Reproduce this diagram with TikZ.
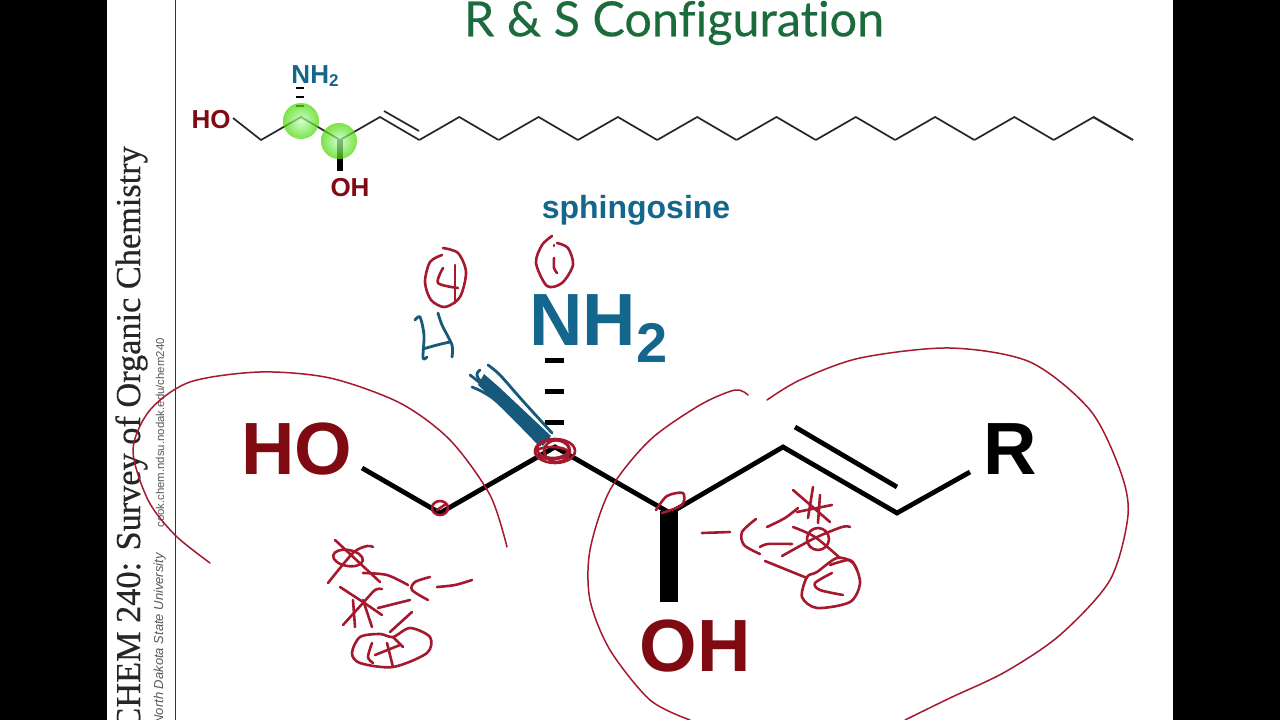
\documentclass[tikz,border=0pt]{standalone}
\usepackage{fontspec}
\setmainfont{Liberation Sans}
\newfontfamily\titlefont[Ligatures=NoCommon,FakeBold=0.3]{Lato}
\newfontfamily\sidefont[FakeStretch=0.98,FakeBold=0.4]{Liberation Serif}
\usetikzlibrary{calc,arrows.meta}
\definecolor{inkred}{HTML}{A5192F}
\definecolor{oxred}{HTML}{7F0A12}
\definecolor{aminoblue}{HTML}{15668C}
\definecolor{inkblue}{HTML}{17597A}
\definecolor{titlegreen}{HTML}{1B6B3C}
\tikzset{
	ink/.style={draw=inkred, line width=2.6pt, line cap=round, line join=round},
	thinink/.style={draw=inkred, line width=1.5pt, line cap=round},
	blueink/.style={draw=inkblue, line width=2.8pt, line cap=round, line join=round},
	bond/.style={draw=black, line width=4.8pt, line join=miter},
	smallbond/.style={draw=black!85, line width=1.7pt},
	biglabel/.style={font=\fontsize{74}{74}\selectfont\bfseries, inner sep=0pt},
	smalllabel/.style={font=\fontsize{26}{26}\selectfont\bfseries, inner sep=0pt},
	center ball/.style={circle, minimum size=36pt, inner sep=0pt, inner color=green!25!white, outer color=green!55!lime!85!black, opacity=0.72}
}
\begin{document}
\begin{tikzpicture}[x=1pt,y=-1pt]
		\useasboundingbox (0,0) rectangle (1280,720);
		\clip (0,0) rectangle (1280,720);
		%Page and black side bars
		\fill [white] (0,0) rectangle (1280,720);
		\fill [black] (0,0) rectangle (107,720);
		\fill [black] (1173,0) rectangle (1280,720);
		\draw [black!80, line width=1pt] (175.5,0) -- (175.5,720);
		%Side text
		\node (course) [anchor=base east, rotate=90, inner sep=0pt, text=black!85, font=\sidefont\fontsize{35}{36}\selectfont] at (140,146) {CHEM 240: Survey of Organic Chemistry};
		\node (website) [anchor=base east, rotate=90, inner sep=0pt, text=black!65, font=\fontsize{11.4}{14}\selectfont] at (164,338) {cook.chem.ndsu.nodak.edu/chem240};
		\node (school) [anchor=base east, rotate=90, inner sep=0pt, text=black!65, font=\itshape\fontsize{13}{14}\selectfont] at (163,553) {North Dakota State University};
		%Title
		\node (title) [text=titlegreen, inner sep=0pt, font=\titlefont\fontsize{48.5}{48}\selectfont] at (674,23) {R \& S Configuration};
		%Small molecule
		\draw [smallbond] (233,118) -- (261,140) -- (301,117) -- (340,140);
		\foreach \i in {0,...,9}
			\draw [smallbond] ({340+79.3*\i},140) -- ({380+79.3*\i},117) -- ({419.3+79.3*\i},140);
		\draw [smallbond] (1133,140) -- (1093,117);
		\draw [smallbond] (384,111) -- (419,131);
		\draw [line width=6pt] (340,140) -- (340,171);
		\foreach \y in {88,97,106}
			\draw [line width=1.6pt] (296,\y) -- (304,\y);
		\node (ballone) [center ball] at (301,121) {};
		\node (balltwo) [center ball] at (339,141) {};
		\node (smallho) [smalllabel, text=oxred] at (211,120) {HO};
		\node (smalloh) [smalllabel, text=oxred] at (350,188) {OH};
		\node (smallnh) [smalllabel, text=aminoblue] at (315,76) {NH{\fontsize{17}{17}\selectfont\raisebox{-3pt}{2}}};
		\node (name) [text=aminoblue, inner sep=0pt, font=\fontsize{32}{32}\selectfont\bfseries] at (636,210) {sphingosine};
		%Big molecule
		\draw [bond] (362,468) -- (440,513) -- (555,447) -- (670,513) -- (783,447) -- (897,513) -- (970,472);
		\draw [bond] (795,427) -- (897,487);
		\fill [black] (660,511) rectangle (678,602);
		\foreach \y in {358,389,420}
			\fill [black] (545,\y) rectangle (564,{\y+5});
		%Labels
		\node (ho) [biglabel, text=oxred] at (297,449) {HO};
		\node (oh) [biglabel, text=oxred] at (695,646) {OH};
		\node (rgroup) [biglabel, text=black] at (1010,449) {R};
		\node (nh) [biglabel, text=aminoblue, anchor=base west] at (529,345) {NH{\fontsize{56}{56}\selectfont\raisebox{-17pt}{2}}};
		%Big red outlines
		\draw [thinink] plot [smooth] coordinates {(210,563) (175,535) (148,500) (133,450) (150,410) (190,382) (260,372) (330,378) (400,403) (450,440) (490,495) (507,547)};
		\draw [thinink] plot [smooth] coordinates {(748,395) (735,390) (700,405) (650,440) (610,490) (590,550) (590,600) (610,650) (650,700) (690,720)};
		\draw [thinink] plot [smooth] coordinates {(767,400) (800,380) (860,358) (950,348) (1030,362) (1090,410) (1120,470) (1128,515) (1110,580) (1060,635) (1005,672) (950,698) (905,720)};
		%Blue H and wedge
		\draw [blueink] plot [smooth] coordinates {(415,320) (420,317) (424,335) (423,358) (427,357)};
		\draw [blueink] plot [smooth] coordinates {(423,349) (437,345) (450,342)};
		\draw [blueink] plot [smooth] coordinates {(438,313) (442,325) (452,345) (452,357)};
		\fill [inkblue] (478,385) -- (484,374) -- (500,388) -- (551,436) -- (543,446) -- cycle;
		\draw [blueink] plot [smooth] coordinates {(470,375) (490,392) (540,443)};
		\draw [blueink] plot [smooth] coordinates {(480,370) (478,378) (505,405) (545,440)};
		\draw [blueink] plot [smooth] coordinates {(488,365) (500,375) (522,400) (552,433)};
		\draw [blueink] plot [smooth] coordinates {(472,387) (495,400) (540,445)};
		%Ringed numbers
		\draw [ink] plot [smooth] coordinates {(443,248) (458,253) (466,272) (460,297) (445,307) (431,300) (425,282) (430,262) (442,255)};
		\draw [ink] plot [smooth] coordinates {(443,268) (438,283) (458,288)};
		\draw [ink] (455,265) -- (455,303);
		\draw [ink] plot [smooth] coordinates {(552,236) (542,245) (536,263) (547,286) (562,283) (573,265) (568,248) (557,243)};
		\draw [ink] (554,245) -- (554,246);
		\draw [ink] plot [smooth] coordinates {(554,258) (554,268) (557,273)};
		%Red marks on the centres
		\draw [ink] (555,451) ellipse [x radius=20, y radius=12];
		\draw [ink] (553,449) ellipse [x radius=16, y radius=9];
		\draw [ink] (557,451) ellipse [x radius=13, y radius=11];
		\draw [ink] (552,453) ellipse [x radius=17, y radius=6];
		\draw [ink] (440,508) ellipse [x radius=8, y radius=7];
		\draw [ink] (437,510) -- (446,504);
		\draw [ink] plot [smooth] coordinates {(656,510) (667,496) (683,493) (682,505) (662,513)};
		%Left scribble
		\draw [ink] (335,540) -- (380,582);
		\draw [ink] plot [smooth] coordinates {(328,583) (353,553) (367,546) (373,547)};
		\draw [ink, rotate around={-10:(348,558)}] (348,558) ellipse [x radius=15, y radius=8];
		\draw [ink] plot [smooth] coordinates {(363,573) (387,575) (408,585)};
		\draw [ink] plot [smooth] coordinates {(430,577) (415,582) (412,590) (428,600)};
		\draw [ink] plot [smooth] coordinates {(437,587) (455,585) (472,580)};
		\draw [ink] (340,587) -- (363,602) -- (382,615);
		\draw [ink] plot [smooth] coordinates {(343,625) (363,603) (375,590) (382,589)};
		\draw [ink] (363,600) -- (372,627);
		\draw [ink] (353,600) -- (355,627);
		\draw [ink] (378,608) -- (410,600);
		\draw [ink] plot [smooth cycle] coordinates {(393,637) (410,628) (430,637) (427,653) (393,667) (360,663) (352,653) (360,637) (380,634)};
		\draw [ink] (390,632) -- (412,612);
		\draw [ink] plot [smooth] coordinates {(372,643) (368,657) (373,663)};
		\draw [ink] (375,655) -- (400,645);
		\draw [ink] (387,643) -- (393,667);
		\draw [ink] (393,637) -- (403,647);
		%Right scribble
		\draw [ink] (702,533) -- (730,532);
		\draw [ink] plot [smooth] coordinates {(756,519) (742,532) (744,545) (760,554)};
		\draw [ink] plot [smooth] coordinates {(767,527) (785,518) (798,508)};
		\draw [ink] (793,490) -- (830,522);
		\draw [ink] (813,487) -- (808,518);
		\draw [ink] (820,495) -- (818,523);
		\draw [ink] (797,512) -- (832,505);
		\draw [ink] plot [smooth] coordinates {(793,527) (815,537) (840,558)};
		\draw [ink] plot [smooth] coordinates {(782,556) (815,538) (842,527) (850,527)};
		\draw [ink] (818,539) circle (11);
		\draw [ink] plot [smooth] coordinates {(760,547) (768,544) (792,544)};
		\draw [ink] (765,561) -- (807,578);
		\draw [ink] plot [smooth cycle] coordinates {(807,577) (802,597) (817,608) (850,602) (860,583) (853,563) (837,558) (817,572)};
		\draw [ink] plot [smooth] coordinates {(830,565) (850,560) (857,570)};
		\draw [ink] plot [smooth] coordinates {(832,573) (815,583) (820,590) (843,595)};
	\end{tikzpicture}
\end{document}
